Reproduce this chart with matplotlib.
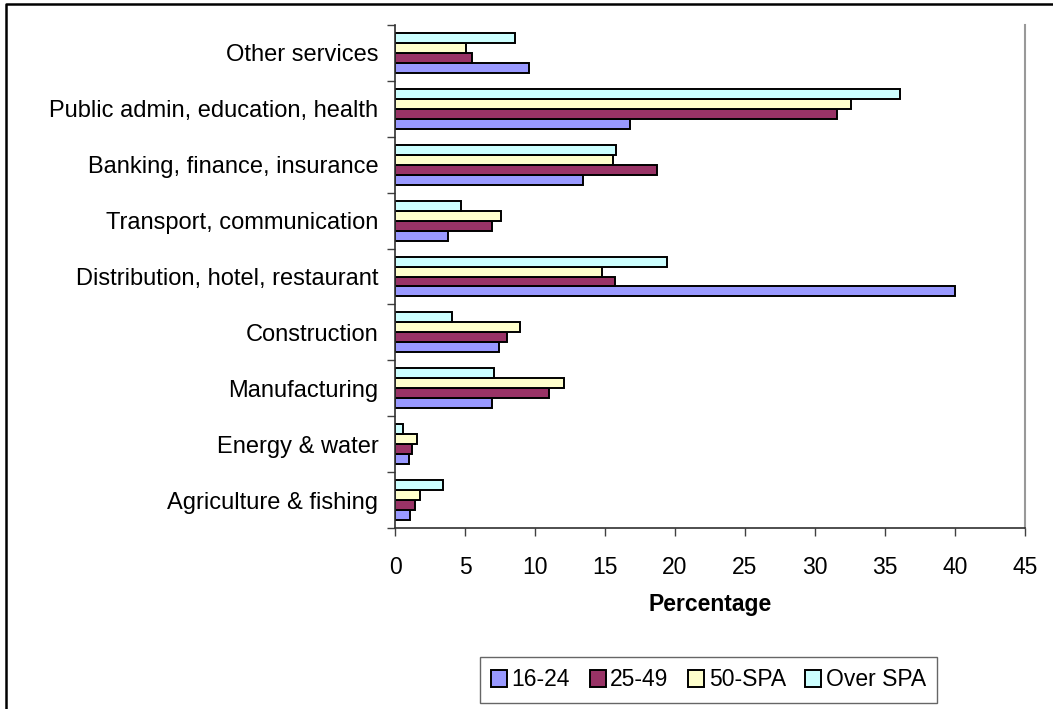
import matplotlib.pyplot as plt
from matplotlib.patches import Patch
from matplotlib.lines import Line2D
import numpy as np

plt.rcParams['font.family'] = ['Liberation Sans', 'DejaVu Sans']

# data (bottom to top)
categories = ['Agriculture & fishing', 'Energy & water', 'Manufacturing', 'Construction',
              'Distribution, hotel, restaurant', 'Transport, communication',
              'Banking, finance, insurance', 'Public admin, education, health', 'Other services']
series = ['16-24', '25-49', '50-SPA', 'Over SPA']
age_16_24 = [1.1, 1.0, 6.9, 7.4, 40.0, 3.8, 13.4, 16.8, 9.6]
age_25_49 = [1.4, 1.2, 11.0, 8.0, 15.7, 6.9, 18.7, 31.6, 5.5]
age_50_spa = [1.8, 1.6, 12.1, 8.9, 14.8, 7.6, 15.6, 32.6, 5.1]
over_spa = [3.4, 0.6, 7.1, 4.1, 19.4, 4.7, 15.8, 36.1, 8.6]
colors = ['#9999FF', '#993366', '#FFFFCC', '#CCFFFF']

W, H = 1053, 709
fig = plt.figure(figsize=(W / 100, H / 100), dpi=100)
ax = fig.add_axes([395 / W, 1 - 528 / H, 630 / W, 503 / H])

y = np.arange(len(categories))
h = 0.1786
for i, vals in enumerate([age_16_24, age_25_49, age_50_spa, over_spa]):
    ax.barh(y + (i - 1.5) * h, vals, height=h, color=colors[i],
            edgecolor='black', linewidth=1.4, label=series[i])

ax.set_xlim(0, 45)
ax.set_ylim(-0.5, len(categories) - 0.5)
ax.set_xticks(range(0, 46, 5))
ax.set_yticks(np.arange(-0.5, len(categories), 1.0))
ax.set_yticklabels([])
ax.set_yticks(y, minor=True)
ax.set_yticklabels(categories, minor=True)
ax.tick_params(axis='y', which='minor', length=0, pad=12, labelsize=17)
ax.tick_params(axis='y', which='major', length=6, width=1, color='#404040')
ax.tick_params(axis='x', length=6, width=1, color='#404040', labelsize=16.5, pad=14)
ax.set_xlabel('Percentage', fontsize=16.5, fontweight='bold', labelpad=10)

for s in ['left', 'bottom']:
    ax.spines[s].set_color('#303030')
    ax.spines[s].set_linewidth(1.2)
ax.spines['top'].set_visible(False)
ax.spines['right'].set_color('#999999')
ax.spines['right'].set_linewidth(1.5)

handles = [Patch(facecolor=c, edgecolor='black', linewidth=1.4) for c in colors]
fig.legend(handles, series, loc='center', ncol=4,
           bbox_to_anchor=((478 + 939) / 2 / W, 1 - 680 / H),
           fontsize=16.5, frameon=True, fancybox=False, edgecolor='#404040',
           handlelength=0.7, handleheight=0.7, handletextpad=0.2,
           columnspacing=0.85, borderpad=0.5, borderaxespad=0)

# chart frame: only left and top edges are in the picture
fig.add_artist(Line2D([6 / W, 6 / W, 1], [0, 1 - 4 / H, 1 - 4 / H],
                      transform=fig.transFigure, color='black', linewidth=1.8))

fig.savefig('out.png', dpi=100)
